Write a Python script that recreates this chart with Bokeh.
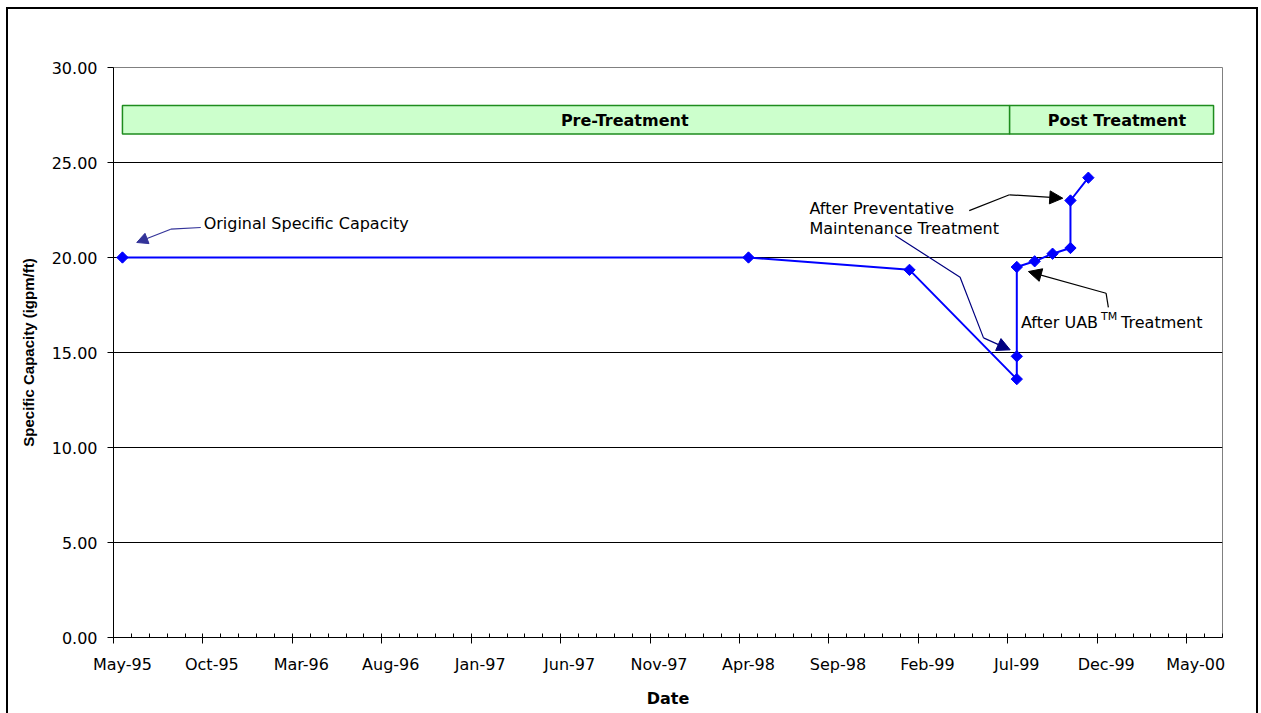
import pandas as pd
from bokeh.plotting import figure
from bokeh.models import (FixedTicker, LinearAxis, NumeralTickFormatter, Range1d,
                          Arrow, NormalHead, ColumnDataSource)
from bokeh.core.properties import value
from bokeh.embed import file_html
from bokeh.resources import INLINE

# ---------------- data ----------------
sample_months = ["1995-05", "1998-04", "1999-01", "1999-07", "1999-07", "1999-07",
                 "1999-08", "1999-09", "1999-10", "1999-10", "1999-11"]
capacity = [20.00, 20.00, 19.35, 13.60, 14.80, 19.50, 19.80, 20.20, 20.50, 23.00, 24.20]

tick_labels = ["May-95", "Oct-95", "Mar-96", "Aug-96", "Jan-97", "Jun-97", "Nov-97",
               "Apr-98", "Sep-98", "Feb-99", "Jul-99", "Dec-99", "May-00"]
axis_first_month = "1995-05"
axis_last_month = "2000-07"

y_ticks = [0, 5, 10, 15, 20, 25, 30]

phase_names = ["Pre-Treatment", "Post Treatment"]
phase_start = [0.5, 50.1]     # in months from May-95
phase_end = [50.1, 61.5]
phase_low = [26.5, 26.5]
phase_high = [28.0, 28.0]

# ---------------- helpers ----------------
base = pd.Period(axis_first_month, "M")


def month_index(period):
    return (period - base).n


x_vals = [month_index(pd.Period(m, "M")) + 0.5 for m in sample_months]
x_end = month_index(pd.Period(axis_last_month, "M"))
label_periods = [pd.Period(pd.to_datetime(t, format="%b-%y"), "M") for t in tick_labels]
major_pos = [month_index(p_) for p_ in label_periods]
label_pos = [m + 0.5 for m in major_pos]

FONT = "DejaVu Sans"

p = figure(width=1261, height=713, output_backend="svg", toolbar_location=None,
           x_range=Range1d(0, x_end), y_range=Range1d(0, 30),
           min_border_left=113, min_border_top=67, min_border_right=39, min_border_bottom=76,
           background_fill_color="white", border_fill_color=None)
p.styles = {
    "background": ("linear-gradient(#000,#000) 6px 7px / 2px 100% no-repeat, "
                   "linear-gradient(#000,#000) 6px 7px / 1252px 2px no-repeat, "
                   "linear-gradient(#000,#000) 1256px 7px / 2px 100% no-repeat, #ffffff"),
}
p.outline_line_color = "#808080"
p.outline_line_width = 1

# ---- x axis A: tick marks only ----
xa = p.xaxis[0]
xa.ticker = FixedTicker(ticks=major_pos, minor_ticks=list(range(0, x_end + 1)))
xa.major_tick_out = 6
xa.major_tick_in = 0
xa.minor_tick_in = 4
xa.minor_tick_out = 0
xa.major_label_text_font_size = "1px"
xa.major_label_text_color = None
xa.major_label_standoff = 0
xa.axis_line_color = "black"
xa.major_tick_line_color = "black"
xa.minor_tick_line_color = "black"

# ---- x axis B: labels centered in the month ----
xb = LinearAxis(ticker=FixedTicker(ticks=label_pos, minor_ticks=[]),
                major_label_overrides={lp: t for lp, t in zip(label_pos, tick_labels)})
xb.axis_line_color = None
xb.major_tick_line_color = None
xb.minor_tick_line_color = None
xb.major_tick_in = 0
xb.major_tick_out = 0
xb.major_label_standoff = 11
xb.major_label_text_font = FONT
xb.major_label_text_font_size = "16px"
xb.major_label_text_color = "black"
xb.axis_label = "Date"
xb.axis_label_text_font = FONT
xb.axis_label_text_font_size = "16px"
xb.axis_label_text_font_style = "bold"
xb.axis_label_standoff = 12
xb.axis_label_text_color = "black"
p.add_layout(xb, "below")

# ---- y axis ----
ya = p.yaxis[0]
ya.ticker = FixedTicker(ticks=y_ticks, minor_ticks=[])
ya.formatter = NumeralTickFormatter(format="0.00")
ya.major_tick_out = 6
ya.major_tick_in = 0
ya.major_label_standoff = 10
ya.major_label_text_font = FONT
ya.major_label_text_font_size = "16px"
ya.major_label_text_color = "black"
ya.axis_line_color = "black"
ya.major_tick_line_color = "black"
ya.axis_label = "Specific Capacity (igpm/ft)"
ya.axis_label_text_font = "Liberation Sans"
ya.axis_label_text_font_size = "15px"
ya.axis_label_text_font_style = "bold"
ya.axis_label_standoff = 12
ya.axis_label_text_color = "black"

p.xgrid.visible = False
p.ygrid.ticker = FixedTicker(ticks=y_ticks)
p.ygrid.grid_line_color = "black"
p.ygrid.grid_line_width = 1

# ---- phase bands ----
band_src = ColumnDataSource(dict(left=phase_start, right=phase_end, bottom=phase_low,
                                 top=phase_high, name=phase_names))
p.quad(left="left", right="right", bottom="bottom", top="top", source=band_src,
       fill_color="#CCFFCC", line_color="#1E8C1E", line_width=1.5)
p.text(x=[28.58, 56.1], y=[27.22, 27.22], text=phase_names,
       text_font=value(FONT), text_font_size="16px", text_font_style="bold",
       text_align="center", text_baseline="middle", text_color="black")

# ---- series ----
p.line(x_vals, capacity, line_color="#0000FF", line_width=2)
p.scatter(x_vals, capacity, marker="square", angle=0.785398, size=8,
          fill_color="#0000FF", line_color="#0000FF")

# ---- annotations ----
NAVY = "#333399"
# Original Specific Capacity
p.text(x=[5.04], y=[21.79], text=["Original Specific Capacity"], text_font=value(FONT),
       text_font_size="16px", text_baseline="middle", text_align="left", text_color="black")
p.line([4.88, 3.20], [21.58, 21.49], line_color=NAVY, line_width=1.2)
p.add_layout(Arrow(x_start=3.20, y_start=21.49, x_end=1.30, y_end=20.79,
                   line_color=NAVY, line_width=1.2,
                   end=NormalHead(size=11, fill_color=NAVY, line_color=NAVY)))

# After Preventative Maintenance Treatment
p.text(x=[38.91, 38.91], y=[22.58, 21.54],
       text=["After Preventative", "Maintenance Treatment"], text_font=value(FONT),
       text_font_size="16px", text_baseline="middle", text_align="left", text_color="black")
p.line([47.84, 50.09], [22.47, 23.30], line_color="black", line_width=1.2)
p.add_layout(Arrow(x_start=50.09, y_start=23.30, x_end=53.07, y_end=23.12,
                   line_color="black", line_width=1.2,
                   end=NormalHead(size=13, fill_color="black", line_color="black")))
p.line([43.70, 47.33, 48.64], [21.16, 18.96, 15.77], line_color="#000080", line_width=1.2)
p.add_layout(Arrow(x_start=48.64, y_start=15.77, x_end=50.13, y_end=15.14,
                   line_color="#000080", line_width=1.2,
                   end=NormalHead(size=13, fill_color="#000080", line_color="#000080")))

# After UAB(TM) Treatment
p.text(x=[50.73], y=[16.59], text=["After UAB"], text_font=value(FONT),
       text_font_size="16px", text_baseline="middle", text_align="left", text_color="black")
p.text(x=[55.21], y=[16.88], text=["TM"], text_font=value(FONT),
       text_font_size="11px", text_baseline="middle", text_align="left", text_color="black")
p.text(x=[56.33], y=[16.59], text=["Treatment"], text_font=value(FONT),
       text_font_size="16px", text_baseline="middle", text_align="left", text_color="black")
p.line([55.62, 55.49], [17.38, 18.12], line_color="black", line_width=1.2)
p.add_layout(Arrow(x_start=55.49, y_start=18.12, x_end=51.15, y_end=19.26,
                   line_color="black", line_width=1.2,
                   end=NormalHead(size=13, fill_color="black", line_color="black")))

open("out.html", "w").write(file_html(p, INLINE))
